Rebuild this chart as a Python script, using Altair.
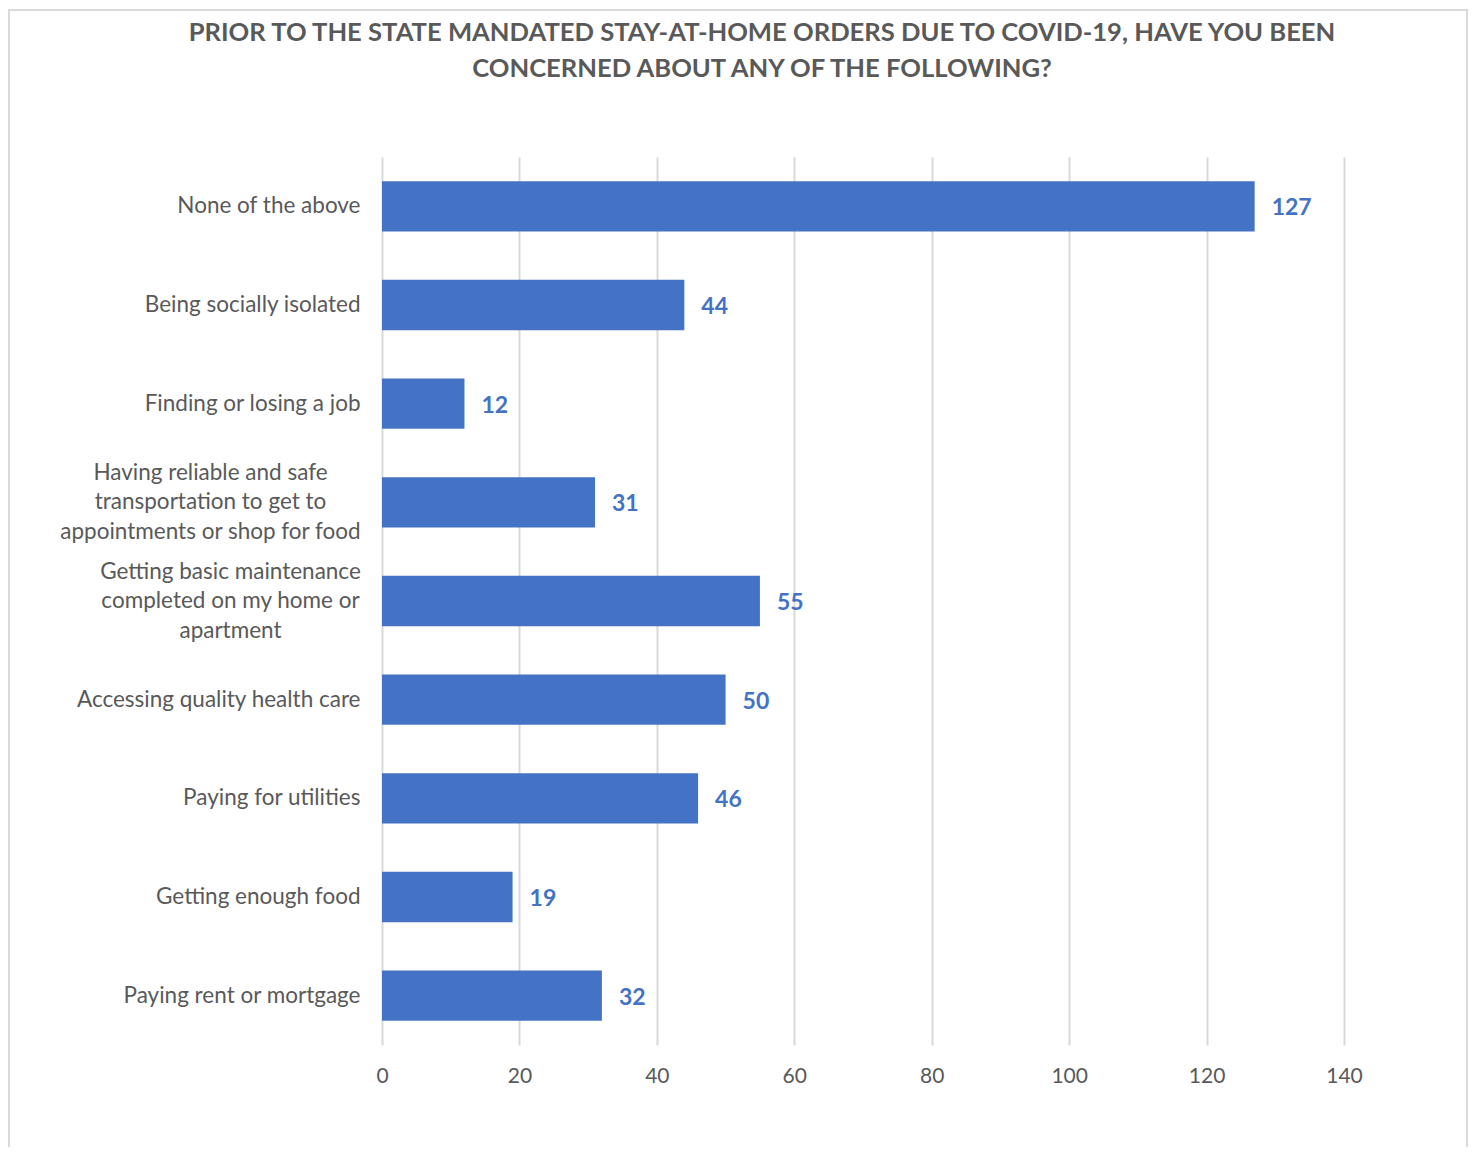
import altair as alt
import pandas as pd

categories = [
    "None of the above",
    "Being socially isolated",
    "Finding or losing a job",
    "Having reliable and safe\ntransportation to get to\nappointments or shop for food",
    "Getting basic maintenance\ncompleted on my home or\napartment",
    "Accessing quality health care",
    "Paying for utilities",
    "Getting enough food",
    "Paying rent or mortgage",
]
values = [127, 44, 12, 31, 55, 50, 46, 19, 32]
x_ticks = [0, 20, 40, 60, 80, 100, 120, 140]
title_lines = [
    "PRIOR TO THE STATE MANDATED STAY-AT-HOME ORDERS DUE TO COVID-19, HAVE YOU BEEN",
    "CONCERNED ABOUT ANY OF THE FOLLOWING?",
]

BLUE = "#4472C4"
GRAY = "#595959"
FONT = "Lato"

df = pd.DataFrame({"category": categories, "value": values})

x_enc = alt.X(
    "value:Q",
    scale=alt.Scale(domain=[0, 140], nice=False),
    axis=alt.Axis(
        values=x_ticks,
        title=None,
        grid=True,
        gridColor="#d9d9d9",
        gridWidth=2,
        domain=False,
        ticks=False,
        labelPadding=20,
        labelFontSize=21,
        labelColor=GRAY,
        labelFont=FONT,
        labelFlush=False,
    ),
)

multi_test_a = "indexof(datum.value, 'appointments') >= 0"
multi_test_b = "indexof(datum.value, '\\n') >= 0"

y_enc = alt.Y(
    "category:N",
    sort=categories,
    scale=alt.Scale(paddingInner=0.49, paddingOuter=0.245),
    axis=alt.Axis(
        title=None,
        domain=False,
        ticks=False,
        labelPadding={
            "condition": [
                {"test": multi_test_a, "value": 172},
                {"test": multi_test_b, "value": 152},
            ],
            "value": 22,
        },
        labelAlign=alt.condition(multi_test_b, alt.value("center"), alt.value("right")),
        labelFontSize=22.5,
        labelColor=GRAY,
        labelFont=FONT,
        labelLineHeight=29.5,
        labelExpr="split(datum.label, '\\n')",
        labelLimit=400,
        labelOffset=alt.condition(multi_test_b, alt.value(-29.5), alt.value(0)),
    ),
)

bars = alt.Chart(df).mark_bar(color=BLUE).encode(x=x_enc, y=y_enc)
labels = alt.Chart(df).mark_text(
    align="left", baseline="middle", dx=17, dy=2,
    font=FONT, fontSize=23, fontWeight="bold", color=BLUE,
).encode(x="value:Q", y=alt.Y("category:N", sort=categories), text="value:Q")

border_df = pd.DataFrame({"b": [0]})
border = alt.Chart(border_df).mark_rect(
    fill=None, stroke="#d9d9d9", strokeWidth=2
).encode(
    x=alt.value(-373), x2=alt.value(1085), y=alt.value(-147), y2=alt.value(1010)
)

chart = alt.layer(border, bars, labels).properties(
    width=962,
    height=888,
    background="white",
    title=alt.TitleParams(
        text=title_lines,
        anchor="middle",
        frame="group",
        dx=-101,
        offset=-74,
        font=FONT,
        fontSize=25.6,
        fontWeight="bold",
        color=GRAY,
        lineHeight=36,
    ),
    autosize=alt.AutoSizeParams(type="none"),
    padding={"left": 374, "top": 149, "right": 124, "bottom": 102},
).configure_view(strokeWidth=0, stroke="transparent")

chart.save("out.html", embed_options={"renderer": "svg", "actions": False})
